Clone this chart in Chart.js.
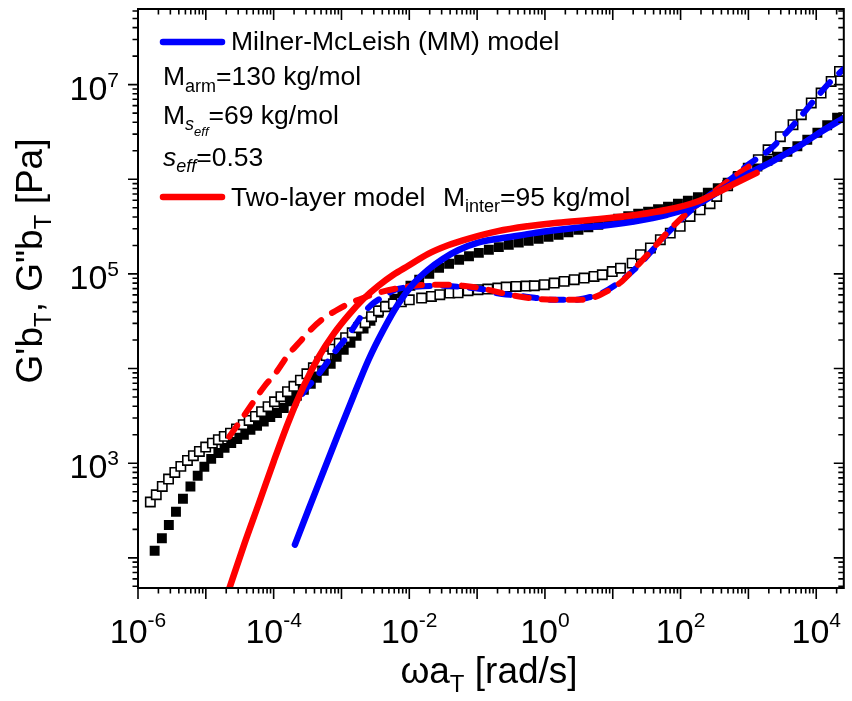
<!DOCTYPE html>
<html>
<head>
<meta charset="utf-8">
<script src="https://cdn.jsdelivr.net/npm/chart.js@4.4.0/dist/chart.umd.min.js"></script>
<style>
  html, body { margin: 0; padding: 0; background: #fff; }
  canvas { display: block; }
</style>
</head>
<body>
<canvas id="chart" width="852" height="701"></canvas>
<script>
// measured G' (filled squares): reduced frequency [rad/s] and modulus [Pa]
const gpFreq = [
  1.76e-6, 2.25e-6, 2.85e-6, 3.63e-6, 4.60e-6, 5.93e-6, 7.59e-6, 9.51e-6, 1.20e-5, 1.53e-5,
  1.89e-5, 2.37e-5, 2.90e-5, 3.64e-5, 4.55e-5, 5.70e-5, 7.15e-5, 8.93e-5, 1.12e-4, 1.41e-4,
  1.75e-4, 2.20e-4, 2.79e-4, 3.53e-4, 4.33e-4, 5.48e-4, 6.94e-4, 8.50e-4, 1.08e-3, 1.36e-3,
  1.67e-3, 2.12e-3, 2.68e-3, 3.51e-3, 4.61e-3, 6.03e-3, 7.91e-3, 1.04e-2, 1.40e-2, 1.97e-2,
  2.75e-2, 3.86e-2, 5.43e-2, 7.59e-2, 0.106, 0.149, 0.209, 0.293, 0.411, 0.575,
  0.807, 1.13, 1.59, 2.22, 3.12, 4.37, 6.13, 8.59, 12.0, 16.9,
  23.7, 33.2, 46.5, 65.2, 91.4, 128, 180, 252, 353, 495,
  694, 973, 1360, 1910, 2680, 3760, 5270, 7380, 1.04e4, 1.45e4,
  2.03e4
];
const gpData = [
  119, 161, 222, 307, 421, 568, 737, 918, 1110, 1280,
  1450, 1630, 1800, 2000, 2260, 2490, 2760, 3080, 3390, 3830,
  4500, 5160, 5970, 6920, 8000, 9490, 1.12e4, 1.33e4, 1.58e4, 1.87e4,
  2.22e4, 2.64e4, 3.20e4, 3.89e4, 4.61e4, 5.47e4, 6.49e4, 7.50e4, 8.69e4, 1.00e5,
  1.16e5, 1.28e5, 1.41e5, 1.54e5, 1.67e5, 1.80e5, 1.92e5, 2.03e5, 2.14e5, 2.24e5,
  2.35e5, 2.47e5, 2.59e5, 2.76e5, 2.93e5, 3.11e5, 3.31e5, 3.56e5, 3.83e5, 4.07e5,
  4.32e5, 4.54e5, 4.83e5, 5.13e5, 5.52e5, 5.93e5, 6.46e5, 7.21e5, 8.04e5, 9.20e5,
  1.06e6, 1.20e6, 1.36e6, 1.57e6, 1.73e6, 1.95e6, 2.23e6, 2.62e6, 3.10e6, 3.72e6,
  4.47e6
];

// measured G'' (open squares)
const gppFreq = [
  1.52e-6, 1.86e-6, 2.28e-6, 2.82e-6, 3.49e-6, 4.28e-6, 5.36e-6, 6.56e-6, 8.04e-6, 9.95e-6,
  1.25e-5, 1.53e-5, 1.87e-5, 2.31e-5, 2.83e-5, 3.56e-5, 4.35e-5, 5.38e-5, 6.64e-5, 8.27e-5,
  1.03e-4, 1.28e-4, 1.60e-4, 1.99e-4, 2.48e-4, 3.09e-4, 3.85e-4, 4.79e-4, 5.96e-4, 7.43e-4,
  9.25e-4, 1.15e-3, 1.44e-3, 1.79e-3, 2.23e-3, 2.77e-3, 3.51e-3, 4.45e-3, 5.83e-3, 7.64e-3,
  1.00e-2, 1.52e-2, 2.12e-2, 2.82e-2, 3.96e-2, 5.24e-2, 7.34e-2, 0.103, 0.144, 0.202,
  0.268, 0.375, 0.526, 0.698, 0.979, 1.37, 1.92, 2.70, 3.78, 5.30,
  7.02, 9.84, 13.0, 19.3, 25.6, 35.9, 50.3, 70.5, 98.8, 138,
  194, 272, 341, 494, 710, 995, 1400, 1950, 2960, 4550,
  6030, 8450, 1.18e4, 1.66e4, 2.20e4
];
const gppData = [
  389, 464, 568, 680, 798, 925, 1070, 1200, 1330, 1480,
  1630, 1770, 1920, 2080, 2300, 2550, 2830, 3120, 3500, 3950,
  4460, 5040, 5690, 6500, 7530, 8810, 1.02e4, 1.18e4, 1.37e4, 1.60e4,
  1.85e4, 2.12e4, 2.39e4, 2.70e4, 3.05e4, 3.53e4, 4.08e4, 4.50e4, 4.84e4, 5.08e4,
  5.33e4, 5.56e4, 5.78e4, 6.03e4, 6.28e4, 6.32e4, 6.64e4, 6.81e4, 6.92e4, 7.10e4,
  7.27e4, 7.38e4, 7.45e4, 7.50e4, 7.69e4, 8.01e4, 8.34e4, 8.68e4, 9.05e4, 9.40e4,
  9.80e4, 1.06e5, 1.15e5, 1.30e5, 1.60e5, 1.88e5, 2.30e5, 2.70e5, 3.18e5, 4.05e5,
  4.76e5, 5.52e5, 6.59e5, 8.55e5, 1.07e6, 1.31e6, 1.61e6, 2.05e6, 2.82e6, 3.77e6,
  4.81e6, 6.40e6, 8.15e6, 1.08e7, 1.38e7
];

// Milner-McLeish model
const mmGpFreq = [2.06e-4, 3.30e-4, 5.48e-4, 9.10e-4, 1.51e-3, 2.51e-3, 4.16e-3, 6.90e-3, 1.15e-2, 1.90e-2,
  3.16e-2, 5.24e-2, 0.103, 0.202, 0.397, 0.925, 2.55, 7.02, 19.3, 63.1,
  174, 405, 879, 2190, 5090, 1.18e4, 2.58e4];
const mmGp = [138, 330, 832, 2100, 5160, 1.24e4, 2.57e4, 4.84e4, 7.88e4, 1.11e5,
  1.45e5, 1.78e5, 2.14e5, 2.35e5, 2.53e5, 2.79e5, 3.04e5, 3.23e5, 3.56e5, 4.22e5,
  5.38e5, 7.76e5, 1.09e6, 1.53e6, 2.15e6, 3.18e6, 4.47e6];
const mmGppFreq = [2.06e-4, 2.79e-4, 4.18e-4, 5.86e-4, 8.22e-4, 1.28e-3, 1.98e-3, 2.77e-3, 3.89e-3, 6.24e-3,
  1.23e-2, 2.95e-2, 7.34e-2, 0.130, 0.183, 0.397, 0.706, 1.21, 2.72, 4.23,
  6.56, 11.6, 20.7, 35.5, 63.1, 112, 192, 341, 605, 1040, 2050, 3630, 6030, 1.00e4, 1.77e4, 2.58e4];
const mmGpp = [4050, 5690, 8000, 1.10e4, 1.54e4, 2.28e4, 3.61e4, 4.72e4, 5.60e4, 6.81e4,
  7.32e4, 7.50e4, 7.15e4, 6.81e4, 6.32e4, 5.89e4, 5.60e4, 5.33e4, 5.33e4, 5.60e4,
  6.18e4, 7.88e4, 1.11e5, 1.67e5, 2.66e5, 4.02e5, 5.65e5, 7.76e5, 1.06e6, 1.46e6, 2.05e6, 3.10e6, 4.69e6, 7.28e6, 1.15e7, 1.47e7];

// two-layer model
const tlGpFreq = [2.14e-5, 3.67e-5, 6.10e-5, 1.01e-4, 1.68e-4, 2.79e-4, 4.62e-4, 7.67e-4, 1.28e-3, 2.12e-3,
  3.51e-3, 5.83e-3, 9.68e-3, 1.90e-2, 3.73e-2, 7.34e-2, 0.202, 0.557, 1.53, 5.93,
  22.9, 63.1, 174, 341, 671, 1320];
const tlGp = [43.9, 138, 382, 1060, 2810, 6590, 1.33e4, 2.33e4, 3.70e4, 5.47e4,
  7.50e4, 9.80e4, 1.22e5, 1.63e5, 2.01e5, 2.35e5, 2.83e5, 3.19e5, 3.48e5, 3.78e5,
  4.22e5, 4.76e5, 5.79e5, 7.21e5, 9.20e5, 1.17e6];
const tlGppFreq = [2.21e-5, 3.10e-5, 4.82e-5, 7.23e-5, 1.08e-4, 1.68e-4, 2.36e-4, 3.30e-4, 5.12e-4, 8.22e-4,
  1.28e-3, 2.12e-3, 3.51e-3, 6.24e-3, 1.15e-2, 1.90e-2, 3.73e-2, 6.19e-2, 9.29e-2, 0.144,
  0.224, 0.397, 0.706, 1.39, 3.33, 5.00, 6.56, 12.9, 20.7, 35.5, 63.1, 112, 192, 341, 605, 1010];
const tlGpp = [1900, 2680, 4250, 6430, 9040, 1.43e4, 1.87e4, 2.45e4, 3.28e4, 4.08e4,
  4.84e4, 5.60e4, 6.32e4, 6.98e4, 7.50e4, 7.69e4, 7.69e4, 7.50e4, 7.23e4, 6.81e4,
  6.32e4, 5.81e4, 5.47e4, 5.33e4, 5.33e4, 5.60e4, 6.03e4, 8.07e4, 1.13e5, 1.71e5, 2.72e5, 4.12e5, 5.65e5, 7.76e5, 1.06e6, 1.36e6];

// decades that carry a label
const xLabelExps = [-6, -4, -2, 0, 2, 4];
const yLabelExps = [3, 5, 7];

const FONT = '"Liberation Sans", Arial, sans-serif';
const BLUE = '#0000ff';
const RED = '#ff0000';

const toPoints = (xs, ys) => xs.map((x, i) => ({ x: x, y: ys[i] }));

const setFont = (ctx, p) => {
  ctx.font = (p.it ? 'italic ' : '') + p.size + 'px ' + FONT;
};

// width of a run of text pieces (for sub/superscripts)
const runWidth = (ctx, parts) => {
  let w = 0;
  parts.forEach((p) => { setFont(ctx, p); w += ctx.measureText(p.t).width; });
  return w;
};

const drawRun = (ctx, x, y, parts) => {
  parts.forEach((p) => {
    setFont(ctx, p);
    ctx.fillText(p.t, x, y + (p.dy || 0));
    x += ctx.measureText(p.t).width;
  });
  return x;
};

// Origin-style frame, ticks, labels and the text legend
const framePlugin = {
  id: 'frame',
  afterDraw(chart) {
    const ctx = chart.ctx;
    const a = chart.chartArea;
    const xs = chart.scales.x;
    const ys = chart.scales.y;
    ctx.save();
    ctx.strokeStyle = '#000';
    ctx.fillStyle = '#000';

    ctx.lineWidth = 1.6;
    ctx.beginPath();
    for (let e = -7; e <= 5; e++) {
      for (let m = 1; m <= 9; m++) {
        const v = m * Math.pow(10, e);
        if (v < xs.min || v > xs.max) continue;
        const px = xs.getPixelForValue(v);
        const len = m === 1 ? 11 : 5.5;
        ctx.moveTo(px, a.bottom); ctx.lineTo(px, a.bottom + len);
        ctx.moveTo(px, a.top); ctx.lineTo(px, a.top + len);
      }
    }
    for (let e = 0; e <= 8; e++) {
      for (let m = 1; m <= 9; m++) {
        const v = m * Math.pow(10, e);
        if (v < ys.min || v > ys.max) continue;
        const py = ys.getPixelForValue(v);
        const len = m === 1 ? 10 : 5.5;
        ctx.moveTo(a.left, py); ctx.lineTo(a.left - len, py);
        ctx.moveTo(a.right, py); ctx.lineTo(a.right - len, py);
      }
    }
    ctx.stroke();

    ctx.lineWidth = 2;
    ctx.strokeRect(a.left, a.top, a.right - a.left, a.bottom - a.top);

    // tick labels
    ctx.textBaseline = 'alphabetic';
    xLabelExps.forEach((e) => {
      const px = xs.getPixelForValue(Math.pow(10, e));
      const parts = [{ t: '10', size: 34 }, { t: String(e), size: 21, dy: -16.5 }];
      const w = runWidth(ctx, parts);
      drawRun(ctx, px - w / 2, a.bottom + 55, parts);
    });
    yLabelExps.forEach((e) => {
      const py = ys.getPixelForValue(Math.pow(10, e));
      const parts = [{ t: '10', size: 34 }, { t: String(e), size: 21, dy: -13 }];
      const w = runWidth(ctx, parts);
      drawRun(ctx, 119 - w, py + 15, parts);
    });

    // axis titles
    const xTitle = [{ t: '\u03c9a', size: 37 }, { t: 'T', size: 24, dy: 9 }, { t: ' [rad/s]', size: 37 }];
    const xw = runWidth(ctx, xTitle);
    drawRun(ctx, 489 - xw / 2, 683, xTitle);

    const yTitle = [
      { t: "G'b", size: 37 }, { t: 'T', size: 24, dy: 9 },
      { t: ', G"b', size: 37 }, { t: 'T', size: 24, dy: 9 },
      { t: ' [Pa]', size: 37 }
    ];
    const yw = runWidth(ctx, yTitle);
    ctx.save();
    ctx.translate(42, 261);
    ctx.rotate(-Math.PI / 2);
    drawRun(ctx, -yw / 2, 0, yTitle);
    ctx.restore();

    // legend block
    ctx.lineCap = 'round';
    ctx.lineWidth = 6.5;
    ctx.strokeStyle = BLUE;
    ctx.beginPath(); ctx.moveTo(163, 42); ctx.lineTo(222, 42); ctx.stroke();
    ctx.strokeStyle = RED;
    ctx.beginPath(); ctx.moveTo(163, 197); ctx.lineTo(222, 197); ctx.stroke();

    const fs = 26.5;
    const sub = 18;
    drawRun(ctx, 231, 50, [{ t: 'Milner-McLeish (MM) model', size: fs }]);
    drawRun(ctx, 163, 85, [{ t: 'M', size: fs }, { t: 'arm', size: sub, dy: 6.5 }, { t: '=130 kg/mol', size: fs }]);
    drawRun(ctx, 163, 124, [
      { t: 'M', size: fs }, { t: 's', size: sub, it: true, dy: 6 },
      { t: 'eff', size: 13, it: true, dy: 12 }, { t: '=69 kg/mol', size: fs }
    ]);
    drawRun(ctx, 163, 166, [{ t: 's', size: fs, it: true }, { t: 'eff', size: sub, it: true, dy: 6 }, { t: '=0.53', size: fs }]);
    drawRun(ctx, 231, 206, [{ t: 'Two-layer model', size: fs }]);
    drawRun(ctx, 443, 206, [{ t: 'M', size: fs }, { t: 'inter', size: sub, dy: 6 }, { t: '=95 kg/mol', size: fs }]);

    ctx.restore();
  }
};

const lineStyle = (color, dashed) => ({
  showLine: true,
  borderColor: color,
  backgroundColor: color,
  borderWidth: dashed ? 6 : 6.5,
  borderDash: dashed ? [14, 13] : [],
  borderCapStyle: 'round',
  borderJoinStyle: 'round',
  pointRadius: 0,
  cubicInterpolationMode: 'monotone',
  clip: 0
});

const ctx = document.getElementById('chart').getContext('2d');

new Chart(ctx, {
  type: 'scatter',
  data: {
    datasets: [
      Object.assign({ label: "two-layer G'", data: toPoints(tlGpFreq, tlGp), order: 0 }, lineStyle(RED, false)),
      Object.assign({ label: "MM G'", data: toPoints(mmGpFreq, mmGp), order: 1 }, lineStyle(BLUE, false)),
      Object.assign({ label: "two-layer G''", data: toPoints(tlGppFreq, tlGpp), order: 2, borderDashOffset: 0 }, lineStyle(RED, true)),
      Object.assign({ label: "MM G''", data: toPoints(mmGppFreq, mmGpp), order: 3, borderDashOffset: 13 }, lineStyle(BLUE, true)),
      {
        label: "G''", data: toPoints(gppFreq, gppData), order: 4,
        pointStyle: 'rect', pointRadius: 6.6, borderWidth: 1.6,
        backgroundColor: '#fff', borderColor: '#000'
      },
      {
        label: "G'", data: toPoints(gpFreq, gpData), order: 5,
        pointStyle: 'rect', pointRadius: 7, borderWidth: 0,
        backgroundColor: '#000', borderColor: '#000'
      }
    ]
  },
  options: {
    responsive: false,
    animation: false,
    devicePixelRatio: 1,
    layout: { padding: { left: 138, right: 4, top: 9, bottom: 113 } },
    scales: {
      x: { type: 'logarithmic', min: 1e-6, max: 2.55e4, display: false },
      y: { type: 'logarithmic', min: 48, max: 6.3e7, display: false }
    },
    plugins: {
      legend: { display: false },
      tooltip: { enabled: false }
    }
  },
  plugins: [framePlugin]
});
</script>
</body>
</html>
